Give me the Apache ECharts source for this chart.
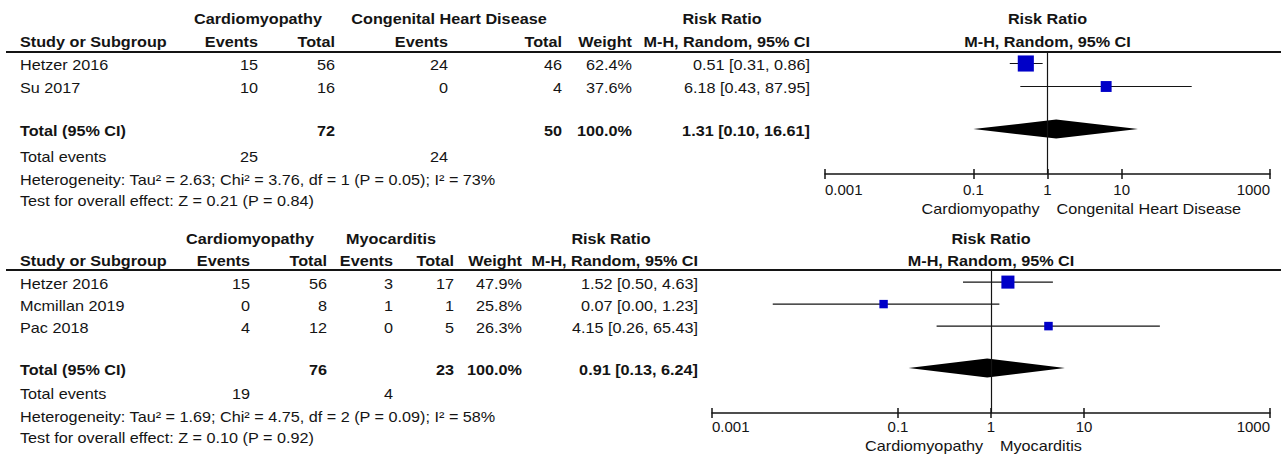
<!DOCTYPE html>
<html>
<head>
<meta charset="utf-8">
<title>Risk Ratio forest plots</title>
<script src="https://cdn.jsdelivr.net/npm/echarts@6/dist/echarts.min.js"></script>
<style>
  html, body { margin: 0; padding: 0; background: #ffffff; }
  #chart { width: 1281px; height: 456px; }
</style>
</head>
<body>
<div id="chart"></div>
<script>
// ---- Risk ratio axis (log scale) ----
const AXIS_MIN = 0.001;
const AXIS_MAX = 1000;
const TICK_VALUES = [0.001, 0.1, 1, 10, 1000];
const TICK_LABELS = ['0.001', '0.1', '1', '10', '1000'];

// ---- Cardiomyopathy vs Congenital Heart Disease ----
const chdStudies = ['Hetzer 2016', 'Su 2017'];
const chdCardioEvents = [15, 10];
const chdCardioTotal = [56, 16];
const chdOtherEvents = [24, 0];
const chdOtherTotal = [46, 4];
const chdWeight = [62.4, 37.6];
const chdRR = [0.51, 6.18];
const chdLow = [0.31, 0.43];
const chdHigh = [0.86, 87.95];
const chdPooled = [1.31, 0.10, 16.61];        // estimate, lower, upper
const chdTotals = [72, 50];                   // cardiomyopathy, congenital
const chdTotalEvents = [25, 24];
const chdHeterogeneity = 'Heterogeneity: Tau\u00B2 = 2.63; Chi\u00B2 = 3.76, df = 1 (P = 0.05); I\u00B2 = 73%';
const chdOverall = 'Test for overall effect: Z = 0.21 (P = 0.84)';

// ---- Cardiomyopathy vs Myocarditis ----
const myoStudies = ['Hetzer 2016', 'Mcmillan 2019', 'Pac 2018'];
const myoCardioEvents = [15, 0, 4];
const myoCardioTotal = [56, 8, 12];
const myoOtherEvents = [3, 1, 0];
const myoOtherTotal = [17, 1, 5];
const myoWeight = [47.9, 25.8, 26.3];
const myoRR = [1.52, 0.07, 4.15];
const myoLow = [0.50, 0.0045, 0.26];
const myoHigh = [4.63, 1.23, 65.43];
const myoPooled = [0.91, 0.13, 6.24];
const myoTotals = [76, 23];
const myoTotalEvents = [19, 4];
const myoHeterogeneity = 'Heterogeneity: Tau\u00B2 = 1.69; Chi\u00B2 = 4.75, df = 2 (P = 0.09); I\u00B2 = 58%';
const myoOverall = 'Test for overall effect: Z = 0.10 (P = 0.92)';

// ---- styling ----
const FONT = "'Liberation Sans', Arial, Helvetica, sans-serif";
const FS = 15;
const TEXT_STRETCH = 1.08;   // slightly wide set type for the table
const INK = '#141414';
const BOX = '#0000c8';

const panels = [
  {
    groupA: 'Cardiomyopathy', groupB: 'Congenital Heart Disease',
    studies: chdStudies, evA: chdCardioEvents, totA: chdCardioTotal,
    evB: chdOtherEvents, totB: chdOtherTotal, weight: chdWeight,
    rr: chdRR, lo: chdLow, hi: chdHigh, pooled: chdPooled,
    totals: chdTotals, totalEvents: chdTotalEvents,
    het: chdHeterogeneity, overall: chdOverall,
    grid: { left: 825, right: 11, top: 52, height: 122 },
    yMin: -0.5, yMax: 4.804, totalRow: 2.85, labelMargin: 8,
    head1Y: 19, head2Y: 42, eventsY: 157, hetY: 180, testY: 201, sideY: 209,
    colX: { evA: 258, totA: 335, evB: 448, totB: 562, weight: 632, ci: 810 },
    centerA: 258, centerB: 449, centerRR: 722
  },
  {
    groupA: 'Cardiomyopathy', groupB: 'Myocarditis',
    studies: myoStudies, evA: myoCardioEvents, totA: myoCardioTotal,
    evB: myoOtherEvents, totB: myoOtherTotal, weight: myoWeight,
    rr: myoRR, lo: myoLow, hi: myoHigh, pooled: myoPooled,
    totals: myoTotals, totalEvents: myoTotalEvents,
    het: myoHeterogeneity, overall: myoOverall,
    grid: { left: 712, right: 11, top: 270, height: 143 },
    yMin: -0.55, yMax: 5.95, totalRow: 3.9, labelMargin: 6,
    head1Y: 239, head2Y: 261, eventsY: 394, hetY: 417, testY: 438, sideY: 446,
    colX: { evA: 250, totA: 327, evB: 393, totB: 454, weight: 522, ci: 698 },
    centerA: 250, centerB: 391, centerRR: 611
  }
];

function f2(v) { return v.toFixed(2); }
function ciText(rr, lo, hi) { return f2(rr) + ' [' + f2(lo) + ', ' + f2(hi) + ']'; }
function tickLabel(v) {
  const k = Math.round(Math.log10(v));
  const i = TICK_VALUES.findIndex(t => Math.round(Math.log10(t)) === k);
  return i >= 0 ? TICK_LABELS[i] : '';
}

const chart = echarts.init(document.getElementById('chart'), null, { renderer: 'svg' });

const grids = [], xAxes = [], yAxes = [], series = [];

panels.forEach((p, i) => {
  grids.push(Object.assign({ containLabel: false }, p.grid));
  const base = {
    type: 'log', logBase: 10, gridIndex: i, min: AXIS_MIN, max: AXIS_MAX,
    position: 'bottom', splitLine: { show: false }, minorTick: { show: false },
    minorSplitLine: { show: false }
  };
  // main axis: line, outward ticks, labels
  xAxes.push(Object.assign({}, base, {
    axisLine: { show: true, onZero: false, lineStyle: { color: INK, width: 1.5 } },
    axisTick: { show: true, customValues: TICK_VALUES, length: 5, lineStyle: { color: INK, width: 1.5 } },
    axisLabel: {
      show: true, customValues: TICK_VALUES, formatter: tickLabel, margin: p.labelMargin,
      color: INK, fontFamily: FONT, fontSize: FS, alignMinLabel: 'left', alignMaxLabel: 'right',
      showMinLabel: true, showMaxLabel: true, hideOverlap: false
    }
  }));
  // twin axis: inward half of each tick mark
  xAxes.push(Object.assign({}, base, {
    axisLine: { show: false, onZero: false },
    axisTick: { show: true, inside: true, customValues: TICK_VALUES, length: 5, lineStyle: { color: INK, width: 1.5 } },
    axisLabel: { show: false }
  }));
  yAxes.push({ type: 'value', gridIndex: i, inverse: true, min: p.yMin, max: p.yMax, show: false });

  // individual studies: CI whisker + weighted box
  series.push({
    type: 'custom', xAxisIndex: 2 * i, yAxisIndex: i, silent: true, animation: false,
    data: p.studies.map((s, k) => [p.rr[k], k, p.lo[k], p.hi[k], p.weight[k]]),
    encode: { x: [0, 2, 3], y: 1 },
    renderItem: (params, api) => {
      const row = api.value(1);
      const c = api.coord([api.value(0), row]);
      const a = api.coord([api.value(2), row]);
      const b = api.coord([api.value(3), row]);
      const side = 3 + 0.21 * api.value(4);
      return {
        type: 'group',
        children: [
          { type: 'line', shape: { x1: a[0], y1: a[1], x2: b[0], y2: b[1] },
            style: { stroke: INK, lineWidth: 1.2 } },
          { type: 'rect', shape: { x: c[0] - side / 2, y: c[1] - side / 2, width: side, height: side },
            style: { fill: BOX } }
        ]
      };
    },
    markLine: {
      silent: true, symbol: 'none', animation: false,
      label: { show: false },
      lineStyle: { color: INK, width: 1.2, type: 'solid' },
      emphasis: { disabled: true },
      data: [{ xAxis: 1 }]
    }
  });

  // pooled estimate: diamond
  series.push({
    type: 'custom', xAxisIndex: 2 * i, yAxisIndex: i, silent: true, animation: false,
    data: [[p.pooled[0], p.totalRow, p.pooled[1], p.pooled[2]]],
    encode: { x: [0, 2, 3], y: 1 },
    renderItem: (params, api) => {
      const row = api.value(1);
      const c = api.coord([api.value(0), row]);
      const a = api.coord([api.value(2), row]);
      const b = api.coord([api.value(3), row]);
      const h = 9.5;
      return {
        type: 'polygon',
        shape: { points: [[a[0], a[1]], [c[0], c[1] - h], [b[0], b[1]], [c[0], c[1] + h]] },
        style: { fill: '#000000' }
      };
    }
  });
});

chart.setOption({
  backgroundColor: '#ffffff',
  animation: false,
  grid: grids,
  xAxis: xAxes,
  yAxis: yAxes,
  series: series
});

// ---- table text ----
function txt(x, y, text, align, bold) {
  return {
    type: 'text', x: x, y: y, scaleX: TEXT_STRETCH, silent: true,
    style: {
      text: String(text), fill: INK, fontFamily: FONT, fontSize: FS,
      fontWeight: bold ? 'bold' : 'normal', align: align || 'left', verticalAlign: 'middle'
    }
  };
}
function hline(x1, x2, y, w) {
  return { type: 'line', silent: true, shape: { x1: x1, y1: y, x2: x2, y2: y },
           style: { stroke: INK, lineWidth: w } };
}

const LEFT = 20;
const graphics = [];
panels.forEach((p, i) => {
  const c = p.colX;
  const rowPx = r => chart.convertToPixel({ gridIndex: i }, [1, r])[1] + 1.5;
  const oneX = chart.convertToPixel({ gridIndex: i }, [1, 0])[0];

  // headers
  graphics.push(txt(p.centerA, p.head1Y, p.groupA, 'center', true));
  graphics.push(txt(p.centerB, p.head1Y, p.groupB, 'center', true));
  graphics.push(txt(p.centerRR, p.head1Y, 'Risk Ratio', 'center', true));
  graphics.push(txt(oneX, p.head1Y, 'Risk Ratio', 'center', true));
  graphics.push(txt(LEFT, p.head2Y, 'Study or Subgroup', 'left', true));
  graphics.push(txt(c.evA, p.head2Y, 'Events', 'right', true));
  graphics.push(txt(c.totA, p.head2Y, 'Total', 'right', true));
  graphics.push(txt(c.evB, p.head2Y, 'Events', 'right', true));
  graphics.push(txt(c.totB, p.head2Y, 'Total', 'right', true));
  graphics.push(txt(c.weight, p.head2Y, 'Weight', 'right', true));
  graphics.push(txt(c.ci, p.head2Y, 'M-H, Random, 95% CI', 'right', true));
  graphics.push(txt(oneX, p.head2Y, 'M-H, Random, 95% CI', 'center', true));
  graphics.push(hline(6, 1281, p.grid.top, 2));

  // study rows
  p.studies.forEach((s, k) => {
    const y = rowPx(k);
    graphics.push(txt(LEFT, y, s, 'left'));
    graphics.push(txt(c.evA, y, p.evA[k], 'right'));
    graphics.push(txt(c.totA, y, p.totA[k], 'right'));
    graphics.push(txt(c.evB, y, p.evB[k], 'right'));
    graphics.push(txt(c.totB, y, p.totB[k], 'right'));
    graphics.push(txt(c.weight, y, p.weight[k].toFixed(1) + '%', 'right'));
    graphics.push(txt(c.ci, y, ciText(p.rr[k], p.lo[k], p.hi[k]), 'right'));
  });

  // pooled row
  const ty = rowPx(p.totalRow);
  graphics.push(txt(LEFT, ty, 'Total (95% CI)', 'left', true));
  graphics.push(txt(c.totA, ty, p.totals[0], 'right', true));
  graphics.push(txt(c.totB, ty, p.totals[1], 'right', true));
  graphics.push(txt(c.weight, ty, '100.0%', 'right', true));
  graphics.push(txt(c.ci, ty, ciText(p.pooled[0], p.pooled[1], p.pooled[2]), 'right', true));

  // summary lines
  graphics.push(txt(LEFT, p.eventsY, 'Total events', 'left'));
  graphics.push(txt(c.evA, p.eventsY, p.totalEvents[0], 'right'));
  graphics.push(txt(c.evB, p.eventsY, p.totalEvents[1], 'right'));
  graphics.push(txt(LEFT, p.hetY, p.het, 'left'));
  graphics.push(txt(LEFT, p.testY, p.overall, 'left'));

  // direction labels under the axis
  graphics.push(txt(oneX - 8, p.sideY, p.groupA, 'right'));
  graphics.push(txt(oneX + 9, p.sideY, p.groupB, 'left'));
});

chart.setOption({ graphic: { elements: graphics } });
</script>
</body>
</html>
